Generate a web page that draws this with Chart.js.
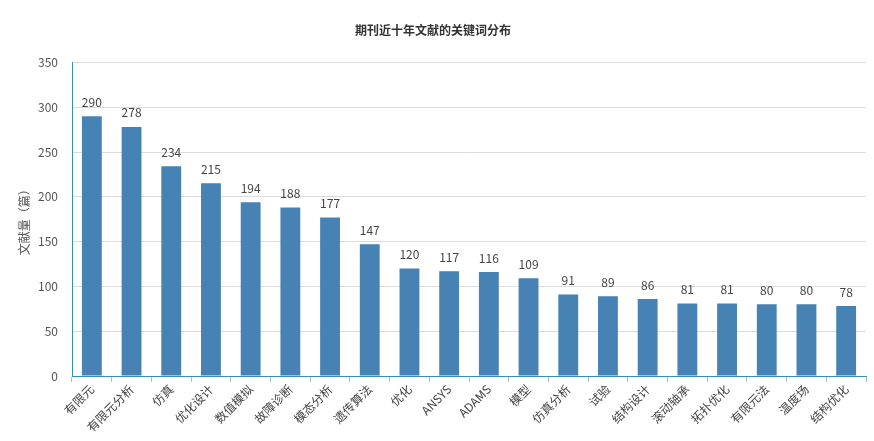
<!DOCTYPE html>
<html>
<head>
<meta charset="utf-8">
<script src="https://cdn.jsdelivr.net/npm/chart.js@4/dist/chart.umd.min.js"></script>
<style>
  html, body { margin: 0; padding: 0; background: #fff; }
  #wrap { width: 874px; height: 441px; }
</style>
</head>
<body>
<div id="wrap"><canvas id="c" width="874" height="441"></canvas></div>
<script>
const keywords = ["有限元", "有限元分析", "仿真", "优化设计", "数值模拟", "故障诊断", "模态分析", "遗传算法", "优化", "ANSYS",
                  "ADAMS", "模型", "仿真分析", "试验", "结构设计", "滚动轴承", "拓扑优化", "有限元法", "温度场", "结构优化"];
const counts = [290, 278, 234, 215, 194, 188, 177, 147, 120, 117, 116, 109, 91, 89, 86, 81, 81, 80, 80, 78];
const yTicks = [0, 50, 100, 150, 200, 250, 300, 350];

const FONT = '"Noto Sans CJK SC", "Open Sans", sans-serif';

// value labels above each bar
const barLabels = {
  id: "barLabels",
  afterDatasetsDraw(chart) {
    const ctx = chart.ctx;
    const meta = chart.getDatasetMeta(0);
    ctx.save();
    ctx.font = "12px " + FONT;
    ctx.fillStyle = "#444";
    ctx.textAlign = "center";
    ctx.textBaseline = "bottom";
    meta.data.forEach((bar, i) => {
      ctx.fillText(String(counts[i]), bar.x, bar.y - 8);
    });
    ctx.restore();
  }
};

new Chart(document.getElementById("c"), {
  type: "bar",
  data: {
    labels: keywords,
    datasets: [{
      data: counts,
      backgroundColor: "#4682b4",
      categoryPercentage: 1,
      barPercentage: 0.5,
    }],
  },
  options: {
    responsive: false,
    animation: false,
    layout: {padding: {left: 0, right: 8, top: 0, bottom: 0}},
    plugins: {
      legend: {display: false},
      tooltip: {enabled: false},
      title: {
        display: true,
        text: "期刊近十年文献的关键词分布",
        color: "#333",
        font: {family: FONT, size: 12, weight: "bold"},
        padding: {top: 23, bottom: 25},
      },
    },
    scales: {
      x: {
        grid: {display: true, drawOnChartArea: false, drawTicks: true, tickLength: 6, color: "#bbb", offset: true},
        border: {display: true, color: "#3a8bc0", width: 1},
        ticks: {color: "#444", font: {family: FONT, size: 12}, maxRotation: 45, minRotation: 45, autoSkip: false, padding: 0},
        afterFit: s => { s.height = 65; },
      },
      y: {
        min: 0, max: 350,
        afterBuildTicks: s => { s.ticks = yTicks.map(v => ({value: v})); },
        grid: {color: "#dcdcdc", drawTicks: false},
        border: {display: true, color: "#3a8bc0", width: 1},
        ticks: {color: "#555", font: {family: FONT, size: 12}, padding: 14},
        title: {display: true, text: "文献量（篇）", color: "#555", font: {family: FONT, size: 12}, padding: {top: 17, bottom: 4}},
        afterFit: s => { s.width = 72; },
      },
    },
  },
  plugins: [barLabels],
});
</script>
</body>
</html>
